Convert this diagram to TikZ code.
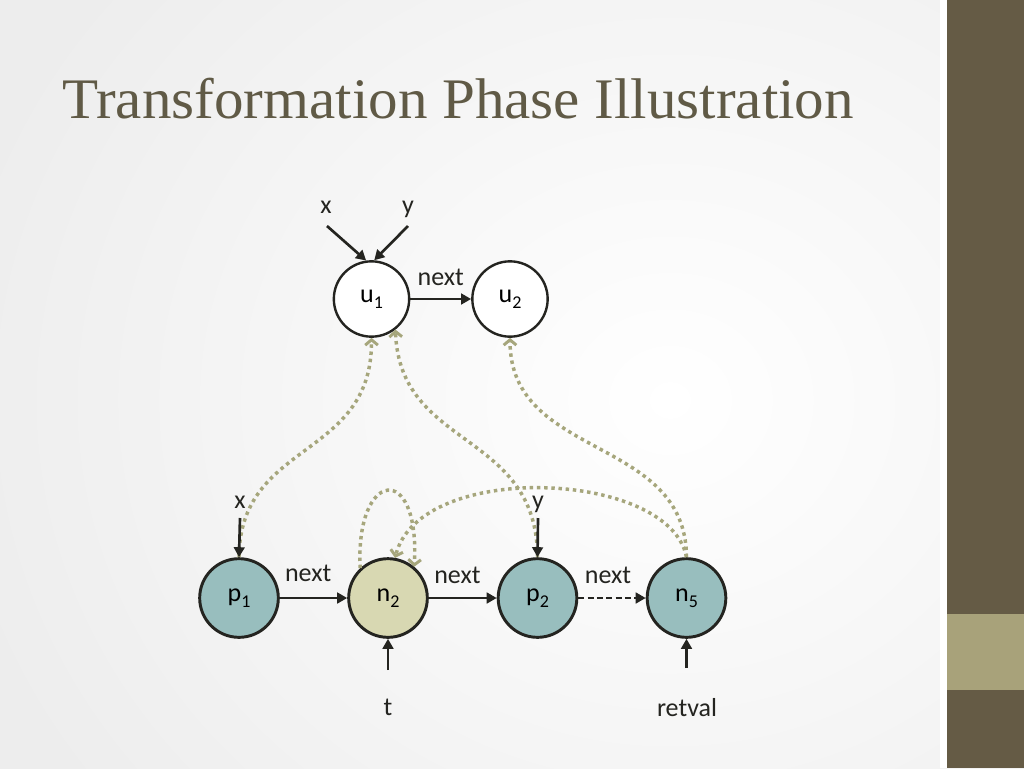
\documentclass[tikz,border=0pt]{standalone}
\usepackage{fontspec}
\setmainfont{Carlito}
\newfontfamily\titlefont{Liberation Serif}
\usetikzlibrary{arrows.meta}
\definecolor{sidebar}{RGB}{101,91,69}
\definecolor{band}{RGB}{168,162,122}
\definecolor{titlec}{RGB}{96,90,70}
\definecolor{linec}{RGB}{36,36,32}
\definecolor{teal}{RGB}{152,190,190}
\definecolor{cream}{RGB}{216,216,178}
\definecolor{dotc}{RGB}{166,166,124}
\newcommand\sbs[1]{\raisebox{-0.5ex}{\fontsize{13.5}{14}\selectfont #1}}
\tikzset{
  topnode/.style={circle, draw=linec, line width=1.8pt, fill=white, minimum size=56.5pt, inner sep=0pt, font=\fontsize{19.5}{22}\selectfont},
  botnode/.style={circle, draw=linec, line width=2.2pt, minimum size=59pt, inner sep=0pt, font=\fontsize{19.5}{22}\selectfont},
  lbl/.style={font=\fontsize{19.5}{22}\selectfont, text=linec, inner sep=0pt},
  blk/.style={draw=linec, line width=2pt, -{Triangle[length=7.5pt,width=8pt]}},
  dotted line/.style={draw=dotc, line width=2.6pt, dash pattern=on 2.6pt off 2.8pt},
  chev/.tip={Straight Barb[length=4pt,width=9.5pt,line width=2.2pt]},
}
\begin{document}
\begin{tikzpicture}[x=0.75pt,y=-0.75pt]
\useasboundingbox (0,0) rectangle (1024,768);
\shade[inner color=white, outer color=black!7] (-60,-250) rectangle (1400,1050);
\fill[white] (940,0) rectangle (947,768);
\fill[sidebar] (947,0) rectangle (1024,768);
\fill[band] (947,614) rectangle (1024,690);
\node[anchor=base west, inner sep=0pt, text=titlec, font=\titlefont\fontsize{43}{46}\selectfont] (title) at (62,118) {\scalebox{1.03}[1]{Transformation Phase Illustration}};

% nodes
\node[topnode] (u1) at (371.5,299) {u\sbs{1}};
\node[topnode] (u2) at (510,299) {u\sbs{2}};
\node[botnode, fill=teal] (p1) at (239,598) {p\sbs{1}};
\node[botnode, fill=cream] (n2) at (388,598) {n\sbs{2}};
\node[botnode, fill=teal] (p2) at (537.5,598) {p\sbs{2}};
\node[botnode, fill=teal] (n5) at (686.5,598) {n\sbs{5}};

% labels
\node[lbl] (xt) at (326,207) {x};
\node[lbl] (yt) at (408,209) {y};
\node[lbl] (xb) at (240,502) {x};
\node[lbl] (yb) at (538,504) {y};
\node[lbl] (tl) at (388,707) {t};
\node[lbl] (rv) at (687,708) {retval};
\coordinate (xts) at (327,226);
\coordinate (yts) at (408,226);
\coordinate (xbs) at (240,518);
\coordinate (ybs) at (538,518);
\coordinate (tls) at (388,670);
\coordinate (rvs) at (686.5,668);

% dotted mapping curves
\draw[dotted line, -chev] (p1.north) .. controls (240,440) and (372,460) .. (u1.south);
\draw[dotted line, -chev] (p2.north) .. controls (537,430) and (400,450) .. (u1.-52);
\draw[dotted line, -chev] (n5.north) .. controls (686,435) and (510,460) .. (u2.south);
\draw[dotted line, -chev] (n2.133) .. controls (355,470) and (420,460) .. (n2.50);
\draw[dotted line, -chev] (n5.north) .. controls (670,470) and (420,460) .. (n2.80);

% black arrows
\draw[blk] (xts) -- (u1.98);
\draw[blk] (yts) -- (u1.86);
\draw[blk] (u1) -- node[lbl, above=9pt] {next} (u2);
\draw[blk] (xbs) -- (p1.north);
\draw[blk] (ybs) -- (p2.north);
\draw[blk] (p1) -- node[lbl, above=11pt, xshift=-4pt] {next} (n2);
\draw[blk] (n2) -- node[lbl, above=10pt, xshift=-4pt] {next} (p2);
\draw[blk, dash pattern=on 4.5pt off 2.5pt] (p2) -- node[lbl, above=10pt, xshift=-3pt] {next} (n5);
\draw[blk] (tls) -- (n2.south);
\draw[blk] (rvs) -- (n5.south);
\end{tikzpicture}
\end{document}
